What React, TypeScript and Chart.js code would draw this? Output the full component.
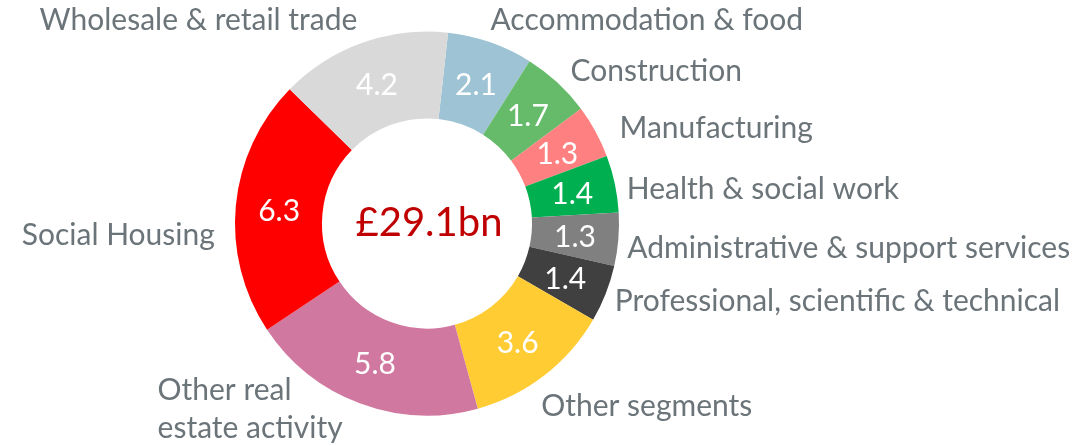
import React, { useEffect, useRef } from "react";
import { Chart, registerables } from "chart.js";

Chart.register(...registerables);

const categories = [
  "Accommodation & food",
  "Construction",
  "Manufacturing",
  "Health & social work",
  "Administrative & support services",
  "Professional, scientific & technical",
  "Other segments",
  "Other real\nestate activity",
  "Social Housing",
  "Wholesale & retail trade",
];
const values = [2.1, 1.7, 1.3, 1.4, 1.3, 1.4, 3.6, 5.8, 6.3, 4.2];
const colors = [
  "#9DC3D4",
  "#66BB6A",
  "#FF8080",
  "#00B050",
  "#808080",
  "#404040",
  "#FFCC33",
  "#D178A0",
  "#FF0000",
  "#D9D9D9",
];
const centerLabel = "£29.1bn";

// label placement relative to each slice's outer mid-point: [dx, dy(baseline), side]
const labelOffsets: [number, number, "l" | "r"][] = [
  [0, -12, "l"],
  [13, -2, "l"],
  [24, 7, "l"],
  [12, 15, "l"],
  [9, 19, "l"],
  [9, 17, "l"],
  [-3, 40, "l"],
  [-17, -3, "r"],
  [-21, 39, "r"],
  [-5, -13, "r"],
];

const FONT = "Lato";
const LABEL_SIZE = 30;
const TEXT_GREY = "#6B7479";

const labelPlugin = {
  id: "customLabels",
  afterDatasetsDraw(chart: any) {
    const ctx = chart.ctx as CanvasRenderingContext2D;
    const meta = chart.getDatasetMeta(0);
    ctx.save();
    meta.data.forEach((arc: any, i: number) => {
      // value labels
      const p = arc.tooltipPosition();
      ctx.fillStyle = "#FFFFFF";
      ctx.font = `${LABEL_SIZE}px ${FONT}`;
      ctx.textAlign = "center";
      ctx.textBaseline = "middle";
      ctx.fillText(values[i].toFixed(1), p.x, p.y + 2);

      // category labels
      const mid = (arc.startAngle + arc.endAngle) / 2;
      const ox = arc.x + Math.cos(mid) * arc.outerRadius;
      const oy = arc.y + Math.sin(mid) * arc.outerRadius;
      const [dx, dy, side] = labelOffsets[i];
      const lines = categories[i].split("\n");
      ctx.fillStyle = TEXT_GREY;
      ctx.textBaseline = "alphabetic";
      ctx.textAlign = "left";
      let x = ox + dx;
      if (side === "r") {
        const w = Math.max(...lines.map((l) => ctx.measureText(l).width));
        x = ox + dx - w;
      }
      lines.forEach((l, k) => {
        ctx.fillText(l, x, oy + dy + k * 38);
      });
    });
    // center text
    const a = meta.data[0];
    ctx.fillStyle = "#C00000";
    ctx.font = `40px ${FONT}`;
    ctx.textAlign = "center";
    ctx.textBaseline = "middle";
    ctx.fillText(centerLabel, a.x + 2, a.y);
    ctx.restore();
  },
};

export default function App() {
  const ref = useRef<HTMLCanvasElement>(null);
  useEffect(() => {
    document.body.style.margin = "0";
    const chart = new Chart(ref.current!, {
      type: "doughnut",
      data: {
        labels: categories,
        datasets: [
          {
            data: values,
            backgroundColor: colors,
            borderWidth: 0,
          },
        ],
      },
      options: {
        responsive: false,
        animation: false,
        rotation: 6.3,
        cutout: "54.7%",
        layout: { padding: { left: 235, right: 470, top: 31.5, bottom: 30.5 } },
        plugins: {
          legend: { display: false },
          tooltip: { enabled: false },
        },
      },
      plugins: [labelPlugin],
    });
    return () => chart.destroy();
  }, []);
  return (
    <div style={{ width: 1089, height: 446, background: "#fff" }}>
      <canvas ref={ref} width={1089} height={446} />
    </div>
  );
}
